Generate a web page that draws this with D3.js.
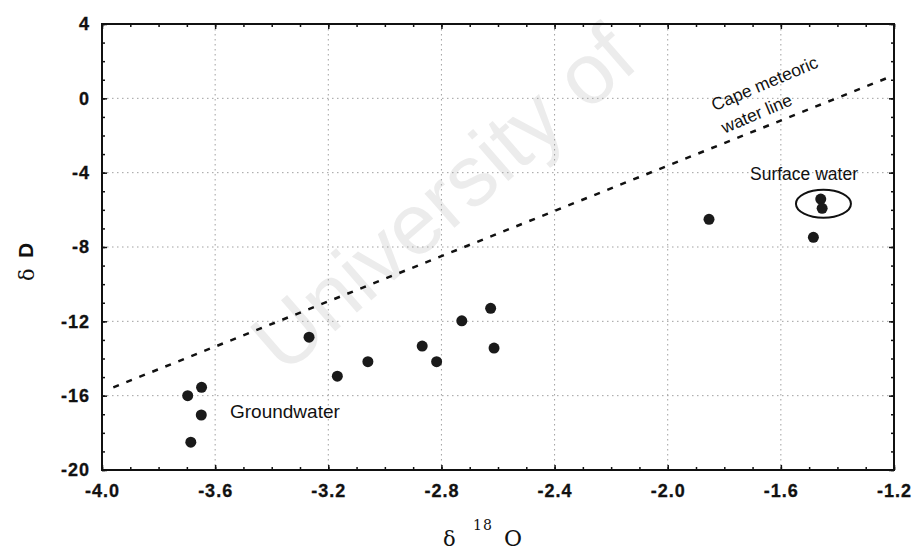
<!DOCTYPE html>
<html>
<head>
<meta charset="utf-8">
<script src="https://cdn.jsdelivr.net/npm/d3@7"></script>
<style>
  html, body { margin: 0; padding: 0; background: #fff; }
  svg { display: block; }
  .tick text { font-family: "Liberation Sans", Arial, sans-serif; font-weight: bold; font-size: 18px; fill: #111; stroke: #111; stroke-width: 0.3px; letter-spacing: 1px; }
  .domain { display: none; }
</style>
</head>
<body>
<svg id="chart" width="913" height="551"></svg>
<script>
// Stable isotope composition: δ18O (x) against δD (y), per mil
const xTickValues = [-4.0, -3.6, -3.2, -2.8, -2.4, -2.0, -1.6, -1.2];
const yTickValues = [4, 0, -4, -8, -12, -16, -20];

const groundwaterO18 = [-3.697, -3.648, -3.649, -3.686, -3.268, -3.168, -3.060, -2.868, -2.817, -2.728, -2.626, -2.614];
const groundwaterD   = [-16.0, -15.55, -17.04, -18.5, -12.85, -14.95, -14.17, -13.33, -14.17, -11.97, -11.30, -13.44];

const surfaceO18 = [-1.854, -1.485, -1.459, -1.454];
const surfaceD   = [-6.51, -7.48, -5.42, -5.92];

// the two circled samples
const circledIdx = [2, 3];

// Cape meteoric water line end points
const mwlO18 = [-3.96, -1.22];
const mwlD   = [-15.55, 1.12];

const svg = d3.select("#chart");
const plotLeft = 102, plotRight = 894, plotTop = 24, plotBottom = 470;

const x = d3.scaleLinear().domain([-4, -1.2]).range([plotLeft, plotRight]);
const y = d3.scaleLinear().domain([-20, 4]).range([plotBottom, plotTop]);

const sans = '"Liberation Sans", Arial, sans-serif';
const serif = '"DejaVu Serif", "Liberation Serif", serif';

// faint watermark behind the plot
svg.append("text")
  .attr("transform", "translate(284,376) rotate(-41)")
  .attr("font-family", sans)
  .attr("font-size", 86)
  .attr("fill", "#ececec")
  .text("University of");

// dotted grid at the major ticks
const grid = svg.append("g").attr("stroke", "#a0a0a0").attr("stroke-width", 1).attr("stroke-dasharray", "1.5,3.5");
grid.selectAll("line.v").data(xTickValues.slice(1, -1)).join("line")
  .attr("x1", d => x(d)).attr("x2", d => x(d)).attr("y1", plotTop).attr("y2", plotBottom);
grid.selectAll("line.h").data(yTickValues.slice(1, -1)).join("line")
  .attr("y1", d => y(d)).attr("y2", d => y(d)).attr("x1", plotLeft).attr("x2", plotRight);

// minor ticks
const xMinor = d3.range(-40, -11, 1).map(v => v / 10);
const yMinor = d3.range(-20, 5, 1);
const fmtX = v => v.toFixed(1);
const fmtY = v => String(v);

function addAxis(axis, transform) {
  svg.append("g").attr("transform", transform).call(axis)
    .call(g => g.selectAll(".tick line").attr("stroke", "#111").attr("stroke-width", 1.5));
}
addAxis(d3.axisBottom(x).tickValues(xMinor).tickSize(-3).tickFormat(""), `translate(0,${plotBottom})`);
addAxis(d3.axisTop(x).tickValues(xMinor).tickSize(-3).tickFormat(""), `translate(0,${plotTop})`);
addAxis(d3.axisLeft(y).tickValues(yMinor).tickSize(-3).tickFormat(""), `translate(${plotLeft},0)`);
addAxis(d3.axisRight(y).tickValues(yMinor).tickSize(-3).tickFormat(""), `translate(${plotRight},0)`);

addAxis(d3.axisBottom(x).tickValues(xTickValues).tickSize(-5).tickPadding(14).tickFormat(fmtX), `translate(0,${plotBottom})`);
addAxis(d3.axisTop(x).tickValues(xTickValues).tickSize(-5).tickFormat(""), `translate(0,${plotTop})`);
addAxis(d3.axisLeft(y).tickValues(yTickValues).tickSize(-5).tickPadding(12).tickFormat(fmtY), `translate(${plotLeft},0)`);
addAxis(d3.axisRight(y).tickValues(yTickValues).tickSize(-5).tickFormat(""), `translate(${plotRight},0)`);

// frame
svg.append("rect")
  .attr("x", plotLeft).attr("y", plotTop).attr("width", plotRight - plotLeft).attr("height", plotBottom - plotTop)
  .attr("fill", "none").attr("stroke", "#111").attr("stroke-width", 2);

// meteoric water line
const mwl = mwlO18.map((v, i) => [v, mwlD[i]]);
svg.append("path")
  .datum(mwl)
  .attr("d", d3.line().x(d => x(d[0])).y(d => y(d[1])))
  .attr("fill", "none").attr("stroke", "#111").attr("stroke-width", 2.5)
  .attr("stroke-dasharray", "6,8");

// samples
const samples = groundwaterO18.map((v, i) => [v, groundwaterD[i]])
  .concat(surfaceO18.map((v, i) => [v, surfaceD[i]]));
svg.append("g").selectAll("circle").data(samples).join("circle")
  .attr("cx", d => x(d[0])).attr("cy", d => y(d[1])).attr("r", 5.5)
  .attr("fill", "#1a1a1a");

// ellipse round the circled surface samples
const ecx = d3.mean(circledIdx, i => x(surfaceO18[i])) + 2;
const ecy = d3.mean(circledIdx, i => y(surfaceD[i]));
svg.append("ellipse")
  .attr("cx", ecx).attr("cy", ecy).attr("rx", 27.5).attr("ry", 14)
  .attr("fill", "none").attr("stroke", "#111").attr("stroke-width", 2);

// annotations
svg.append("text").attr("x", 230).attr("y", 418)
  .attr("font-family", sans).attr("font-size", 19).attr("fill", "#111")
  .text("Groundwater");
svg.append("text").attr("x", 750).attr("y", 180)
  .attr("font-family", sans).attr("font-size", 17.5).attr("fill", "#111")
  .text("Surface water");
svg.append("text").attr("transform", "translate(767,89) rotate(-23)")
  .attr("text-anchor", "middle")
  .attr("font-family", sans).attr("font-size", 17.5).attr("fill", "#111")
  .text("Cape meteoric");
svg.append("text").attr("transform", "translate(759,119) rotate(-23)")
  .attr("text-anchor", "middle")
  .attr("font-family", sans).attr("font-size", 17.5).attr("fill", "#111")
  .text("water line");

// axis titles
const xt = svg.append("g").attr("fill", "#111");
xt.append("text").attr("x", 443).attr("y", 546).attr("font-family", serif).attr("font-size", 21).text("δ");
xt.append("text").attr("x", 473).attr("y", 530).attr("font-family", serif).attr("font-size", 14)
  .attr("letter-spacing", 1).text("18");
xt.append("text").attr("x", 504).attr("y", 546).attr("font-family", serif).attr("font-size", 22).text("O");

const yt = svg.append("g").attr("fill", "#111");
yt.append("text").attr("transform", "translate(34,281) rotate(-90)")
  .attr("font-family", serif).attr("font-size", 21).text("δ");
yt.append("text").attr("transform", "translate(33,258) rotate(-90)")
  .attr("font-family", sans).attr("font-weight", "bold").attr("font-size", 21).text("D");
</script>
</body>
</html>
